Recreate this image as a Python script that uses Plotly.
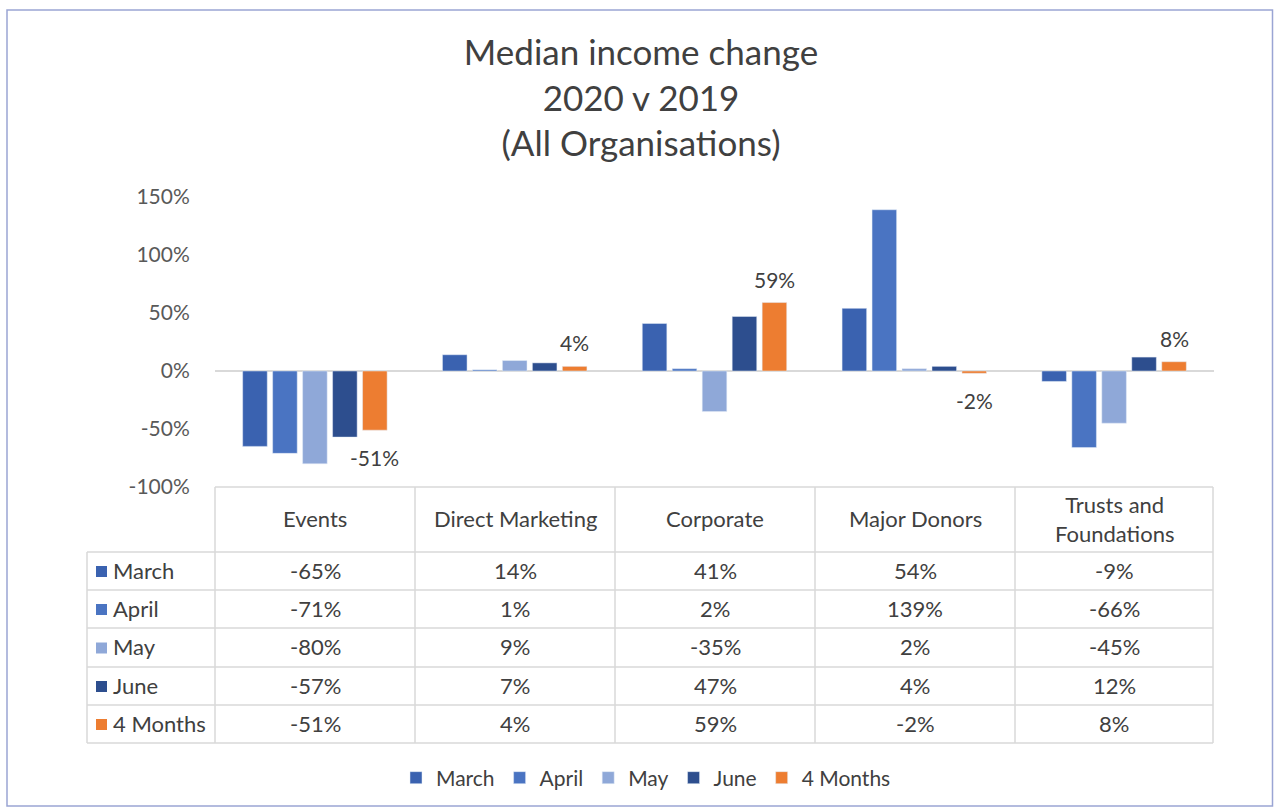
import plotly.graph_objects as go

categories = ["Events", "Direct Marketing", "Corporate", "Major Donors", "Trusts and Foundations"]
header_labels = ["Events", "Direct Marketing", "Corporate", "Major Donors", "Trusts and<br>Foundations"]
series_names = ["March", "April", "May", "June", "4 Months"]
march = [-65, 14, 41, 54, -9]
april = [-71, 1, 2, 139, -66]
may = [-80, 9, -35, 2, -45]
june = [-57, 7, 47, 4, 12]
four_months = [-51, 4, 59, -2, 8]
tick_vals = [-100, -50, 0, 50, 100, 150]
tick_text = ["-100%", "-50%", "0%", "50%", "100%", "150%"]

series_values = [march, april, may, june, four_months]
colors = ["#3A62B0", "#4A74C2", "#8FA8D8", "#2D4E8E", "#ED7D31"]

W, H = 1274, 807
FONT = "Lato"
TXT = "#404040"
GRID = "#D9D9D9"
FS = 21
FT = 22

def px(x):
    return x / W

def py(y):
    return 1 - y / H

plot_left, plot_right = 215, 1214
y_top_px, y_bot_px = 197, 487

fig = go.Figure()
for name, vals, col in zip(series_names, series_values, colors):
    fig.add_trace(go.Bar(name=name, x=categories, y=vals, marker_color=col, cliponaxis=False))

shapes = []
annotations = []

# data labels for the "4 Months" series (last bar in each group)
for cat, v in zip(categories, four_months):
    annotations.append(dict(xref="x", yref="y", x=cat, y=v, text=f"{v}%", showarrow=False,
                            xshift=60, yshift=9 if v >= 0 else -13,
                            yanchor="bottom" if v >= 0 else "top", xanchor="center",
                            font=dict(size=FS, color=TXT, family=FONT)))

shapes.append(dict(type="rect", xref="paper", yref="paper", x0=px(7), x1=px(1272.5), y0=py(806), y1=py(10),
                   line=dict(color="#9AA5D4", width=1.5), layer="below"))

col_edges = [215, 415, 615, 815, 1015, 1213]
header_top, header_bot = 487, 552
row_edges = [552, 590, 628, 667, 705, 743]
table_left = 87

shapes.append(dict(type="line", xref="paper", yref="paper", x0=px(col_edges[0]), x1=px(col_edges[-1]),
                   y0=py(header_top), y1=py(header_top), line=dict(color=GRID, width=1.5)))
for xe in col_edges:
    shapes.append(dict(type="line", xref="paper", yref="paper", x0=px(xe), x1=px(xe),
                       y0=py(header_top), y1=py(row_edges[-1]), line=dict(color=GRID, width=1.5)))
shapes.append(dict(type="line", xref="paper", yref="paper", x0=px(table_left), x1=px(table_left),
                   y0=py(row_edges[0]), y1=py(row_edges[-1]), line=dict(color=GRID, width=1.5)))
for ye in row_edges:
    shapes.append(dict(type="line", xref="paper", yref="paper", x0=px(table_left), x1=px(col_edges[-1]),
                       y0=py(ye), y1=py(ye), line=dict(color=GRID, width=1.5)))

for i, lab in enumerate(header_labels):
    cx = (col_edges[i] + col_edges[i + 1]) / 2
    annotations.append(dict(xref="paper", yref="paper", x=px(cx), y=py((header_top + header_bot) / 2 - 1),
                            text=lab, showarrow=False, font=dict(size=FT, color=TXT, family=FONT),
                            xanchor="center", yanchor="middle"))

for r, (name, vals, col) in enumerate(zip(series_names, series_values, colors)):
    cy = (row_edges[r] + row_edges[r + 1]) / 2
    shapes.append(dict(type="rect", xref="paper", yref="paper", x0=px(96), x1=px(107),
                       y0=py(cy + 6), y1=py(cy - 5), fillcolor=col, line=dict(width=0)))
    annotations.append(dict(xref="paper", yref="paper", x=px(111), y=py(cy - 1), text=name, showarrow=False,
                            font=dict(size=FT, color=TXT, family=FONT), xanchor="left", yanchor="middle"))
    for i, v in enumerate(vals):
        cx = (col_edges[i] + col_edges[i + 1]) / 2
        annotations.append(dict(xref="paper", yref="paper", x=px(cx), y=py(cy - 1), text=f"{v}%",
                                showarrow=False, font=dict(size=FT, color=TXT, family=FONT),
                                xanchor="center", yanchor="middle"))

fig.update_layout(
    width=W, height=H, autosize=False,
    margin=dict(l=0, r=0, t=0, b=0, autoexpand=False),
    paper_bgcolor="white", plot_bgcolor="white",
    font=dict(family=FONT, color=TXT),
    title=dict(text="Median income change<br>2020 v 2019<br>(All Organisations)",
               x=px(641), xanchor="center", y=py(65), yanchor="middle",
               font=dict(size=35, color=TXT, family=FONT)),
    barmode="group", bargap=0.25, bargroupgap=0.18,
    xaxis=dict(domain=[px(plot_left), px(plot_right)], showticklabels=False, showline=False,
               showgrid=False, zeroline=False, fixedrange=True, automargin=False),
    yaxis=dict(domain=[py(y_bot_px), py(y_top_px)], range=[-100, 150], tickvals=tick_vals,
               ticktext=tick_text, showgrid=False, zeroline=True, zerolinecolor=GRID, zerolinewidth=1.5,
               ticks="outside", ticklen=20, tickcolor="rgba(0,0,0,0)", automargin=False,
               tickfont=dict(size=FS, color="#595959", family=FONT), showline=False),
    legend=dict(orientation="h", x=px(646), xanchor="center", y=py(778), yanchor="middle",
                font=dict(size=FS, color=TXT, family=FONT), itemwidth=30, traceorder="normal"),
    shapes=shapes, annotations=annotations,
)

fig.write_html("out.html", config={"displayModeBar": False},
               post_script="document.body.style.margin='0';document.body.style.overflow='hidden';")
